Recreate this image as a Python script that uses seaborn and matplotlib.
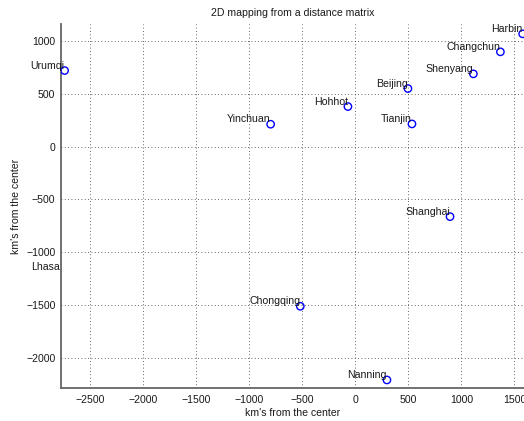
import matplotlib
matplotlib.use("Agg")
import matplotlib.pyplot as plt
import seaborn as sns
import pandas as pd

cities = ["Harbin", "Changchun", "Shenyang", "Beijing", "Tianjin", "Hohhot",
          "Yinchuan", "Urumqi", "Lhasa", "Chongqing", "Nanning", "Shanghai"]
x_km = [1578, 1368, 1113, 496, 534, -70, -799, -2742, -2787, -519, 298, 893]
y_km = [1065, 895, 687, 548, 214, 378, 211, 718, -1188, -1509, -2205, -662]

xlim = (-2776, 1600)
ylim = (-2281, 1158)

sns.set_style("white")
plt.rcParams['font.family'] = ['Liberation Sans', 'DejaVu Sans']

df = pd.DataFrame({"city": cities, "x": x_km, "y": y_km})
visible = df[(df.x >= xlim[0]) & (df.x <= xlim[1] + 40)]

fig = plt.figure(figsize=(5.24, 4.21), dpi=100)
ax = fig.add_axes([61 / 524, 33 / 421, 464 / 524, 364 / 421])

sns.scatterplot(data=visible, x="x", y="y", ax=ax, marker="o", s=28,
                facecolor="none", edgecolor="blue", linewidth=1.0, zorder=3)

for _, r in df.iterrows():
    ax.text(r.x, r.y, r.city, ha="right", va="bottom", fontsize=7.6,
            color="#1a1a1a", clip_on=False)

ax.set_xlim(*xlim)
ax.set_ylim(*ylim)
ax.set_xticks([-2500, -2000, -1500, -1000, -500, 0, 500, 1000, 1500])
ax.set_yticks([-2000, -1500, -1000, -500, 0, 500, 1000])
ax.grid(True, color="#333333", linestyle=(0, (1, 3)), linewidth=0.6)
ax.tick_params(direction="in", length=4, width=1, colors="#555555",
               labelcolor="#1a1a1a", labelsize=7.6, pad=4)
ax.tick_params(axis="x", pad=5)
for side in ["top", "right"]:
    ax.spines[side].set_visible(False)
for side in ["left", "bottom"]:
    ax.spines[side].set_color("#666666")
    ax.spines[side].set_linewidth(1.3)

ax.set_title("2D mapping from a distance matrix", fontsize=7.6, pad=6, color="#1a1a1a")
ax.set_xlabel("km's from the center", fontsize=7.6, labelpad=2, color="#1a1a1a")
ax.set_ylabel("km's from the center", fontsize=7.6, labelpad=4, color="#1a1a1a")

fig.savefig("out.png", dpi=100)
